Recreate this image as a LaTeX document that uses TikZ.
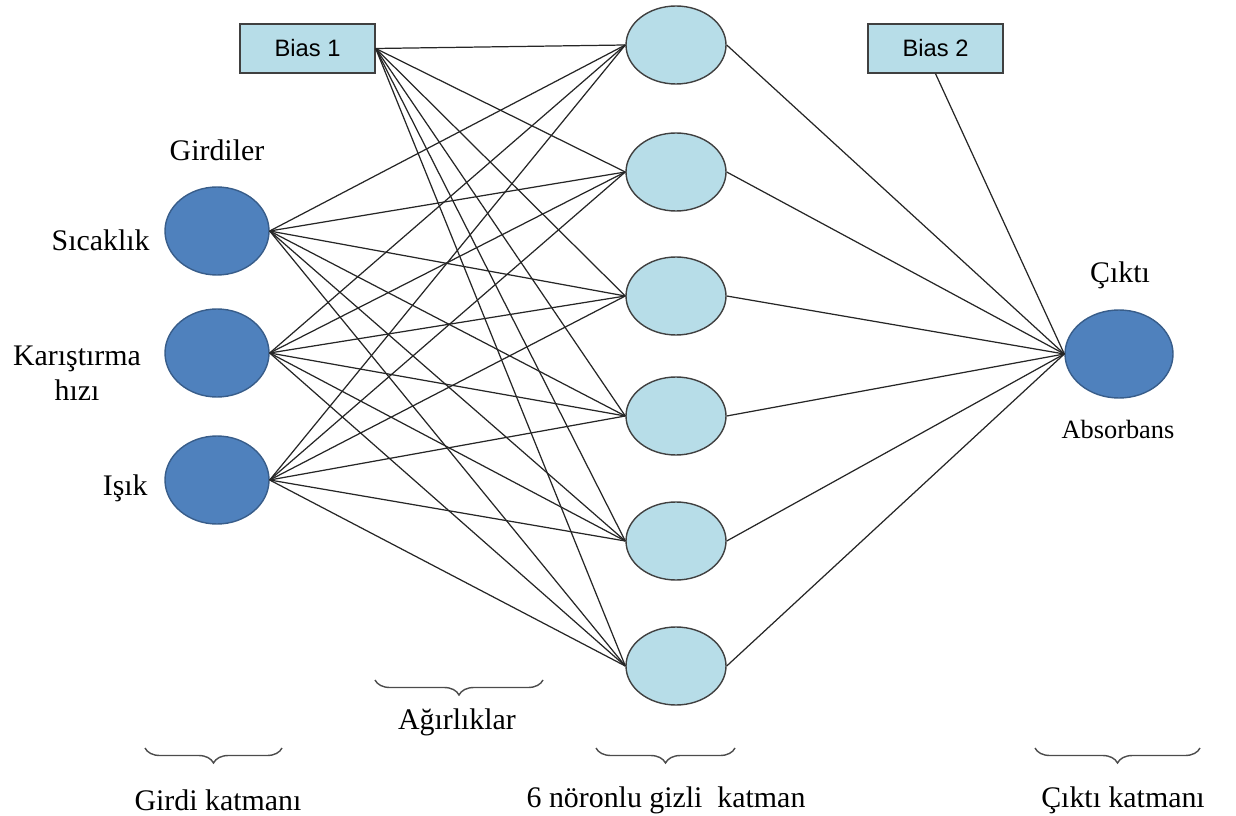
\documentclass[tikz,border=0pt]{standalone}
\usepackage{fontspec}
\setmainfont{Liberation Serif}
\newfontfamily\biasfont{Liberation Sans}
\usepackage{tikz}
\usetikzlibrary{shapes,positioning,calc,decorations.pathreplacing}
\definecolor{darkblue}{RGB}{79,129,189}
\definecolor{darkrim}{RGB}{56,93,138}
\definecolor{lightblue}{RGB}{183,221,232}
\tikzset{
    inp/.style={
        ellipse,
        thick,
        draw=darkrim,
        fill=darkblue,
        inner sep=0pt,
        minimum width=2.08cm,
        minimum height=1.76cm,
    },
    hid/.style={
        ellipse,
        thick,
        draw=black!75,
        fill=lightblue,
        inner sep=0pt,
        minimum width=2.0cm,
        minimum height=1.56cm,
    },
    biasbox/.style={
        rectangle,
        thick,
        draw=black!75,
        fill=lightblue,
        minimum width=2.7cm,
        minimum height=0.98cm,
        font=\biasfont\fontsize{13.5}{16}\selectfont,
    },
    lbl/.style={
        font=\fontsize{17}{17}\selectfont,
        inner sep=0pt,
    },
    layerbrace/.style={
        decorate,
        decoration={brace,mirror,amplitude=0.3cm},
        thick,
        black!70,
    },
}
\begin{document}
\begin{tikzpicture}[every edge/.style={draw=black!85,line width=0.7pt}]
    \useasboundingbox (0,0) rectangle (24.72,-16.32);
    % input layer
    \node [inp] (i1) at (4.34,-4.62) {};
    \node [inp] (i2) at (4.34,-7.06) {};
    \node [inp] (i3) at (4.34,-9.6) {};
    % hidden layer
    \node [hid] (h1) at (13.52,-0.9) {};
    \node [hid] (h2) at (13.52,-3.44) {};
    \node [hid] (h3) at (13.52,-5.92) {};
    \node [hid] (h4) at (13.52,-8.32) {};
    \node [hid] (h5) at (13.52,-10.82) {};
    \node [hid] (h6) at (13.52,-13.32) {};
    % output layer
    \node [inp,minimum width=2.16cm] (o) at (22.38,-7.08) {};
    \node [biasbox] (b1) at (6.15,-0.97) {Bias 1};
    \node [biasbox] (b2) at (18.71,-0.97) {Bias 2};
    % labels
    \node [lbl,above=0.5cm of i1] (gl) {Girdiler};
    \node [lbl,anchor=east] (l1) at (3.0,-4.8) {Sıcaklık};
    \node [lbl,align=center] (l2) at (1.54,-7.46) {Karıştırma\\[0.1cm]hızı};
    \node [lbl,anchor=east] (l3) at (2.96,-9.76) {Işık};
    \node [lbl] (ol) at (22.4,-5.5) {Çıktı};
    \node [lbl,font=\fontsize{15}{15}\selectfont] (al) at (22.36,-8.58) {Absorbans};
    % connections
    \path (i1.east) edge (h1.west) edge (h2.west) edge (h3.west) edge (h4.west) edge (h5.west) edge (h6.west);
    \path (i2.east) edge (h1.west) edge (h2.west) edge (h3.west) edge (h4.west) edge (h5.west) edge (h6.west);
    \path (i3.east) edge (h1.west) edge (h2.west) edge (h3.west) edge (h4.west) edge (h5.west) edge (h6.west);
    \path (b1.east) edge (h1.west) edge (h2.west) edge (h3.west) edge (h4.west) edge (h5.west) edge (h6.west);
    \path (o.west) edge (h1.east) edge (h2.east) edge (h3.east) edge (h4.east) edge (h5.east) edge (h6.east)
        edge (b2.south);
    % braces
    \coordinate (g1) at (2.9,-14.96);
    \coordinate (g2) at (5.64,-14.96);
    \coordinate (w1) at (7.5,-13.6);
    \coordinate (w2) at (10.86,-13.6);
    \coordinate (n1) at (11.92,-14.96);
    \coordinate (n2) at (14.7,-14.96);
    \coordinate (c1) at (20.7,-14.96);
    \coordinate (c2) at (24.0,-14.96);
    \draw [layerbrace] (g1) -- (g2);
    \draw [layerbrace] (w1) -- (w2);
    \draw [layerbrace] (n1) -- (n2);
    \draw [layerbrace] (c1) -- (c2);
    \node [lbl] (gk) at (4.36,-16.0) {Girdi katmanı};
    \node [lbl] (wk) at (9.14,-14.44) {Ağırlıklar};
    \node [lbl] (nk) at (13.32,-16.0) {6 nöronlu gizli\ \ katman};
    \node [lbl] (ck) at (22.46,-16.0) {Çıktı katmanı};
\end{tikzpicture}
\end{document}
